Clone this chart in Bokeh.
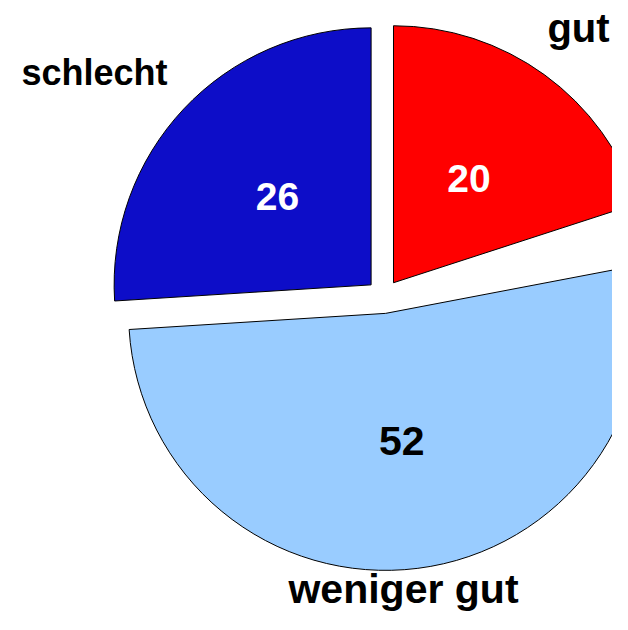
import math
from bokeh.plotting import figure
from bokeh.models import Range1d
from bokeh.core.properties import value
from bokeh.embed import file_html
from bokeh.resources import INLINE

# ---- data ----
categories = ["gut", "keine Angabe", "weniger gut", "schlecht"]
values = [20, 2, 52, 26]
colors = ["#FF0000", None, "#99CCFF", "#0D0DC8"]
number_colors = ["white", None, "black", "white"]
shown = [True, False, True, True]

# ---- layout ----
W, H = 612, 614
CX, CY = 383, 334      # pie centre (data units = pixels, y up)
R = 257
EXPLODE = 17
FONT = "Liberation Sans"
number_sizes = ["39px", None, "41px", "39px"]
label_pos = {"gut": (578, 603, "40px"),
             "schlecht": (94, 558, "36px"),
             "weniger gut": (403, 42, "41px")}

p = figure(width=W, height=H, output_backend="svg", toolbar_location=None,
           x_range=Range1d(0, W), y_range=Range1d(630 - H, 630),
           x_axis_location=None, y_axis_location=None, min_border=0)
p.grid.visible = False
p.outline_line_color = None
p.background_fill_color = "white"

total = float(sum(values))
cum = 0.0
for cat, v, col, ncol, show, nsize in zip(categories, values, colors,
                                         number_colors, shown, number_sizes):
    t0 = cum / total * 360.0           # clockwise from 12 o'clock
    t1 = (cum + v) / total * 360.0
    cum += v
    if not show:
        continue
    mid = math.radians((t0 + t1) / 2)
    ax = CX + EXPLODE * math.sin(mid)
    ay = CY + EXPLODE * math.cos(mid)
    p.wedge(x=[ax], y=[ay], radius=R,
            start_angle=math.radians(90 - t1), end_angle=math.radians(90 - t0),
            direction="anticlock",
            fill_color=col, line_color="black", line_width=1)
    nx = ax + 0.5 * R * math.sin(mid)
    ny = ay + 0.5 * R * math.cos(mid)
    p.text(x=[nx], y=[ny], text=[str(v)], text_align="center",
           text_baseline="alphabetic", text_font=value(FONT),
           text_font_style="bold", text_font_size=nsize, text_color=ncol)
    lx, ly, lsize = label_pos[cat]
    p.text(x=[lx], y=[ly], text=[cat], text_align="center",
           text_baseline="alphabetic", text_font=value(FONT),
           text_font_style="bold", text_font_size=lsize, text_color="black")

open("out.html", "w").write(file_html(p, INLINE))
